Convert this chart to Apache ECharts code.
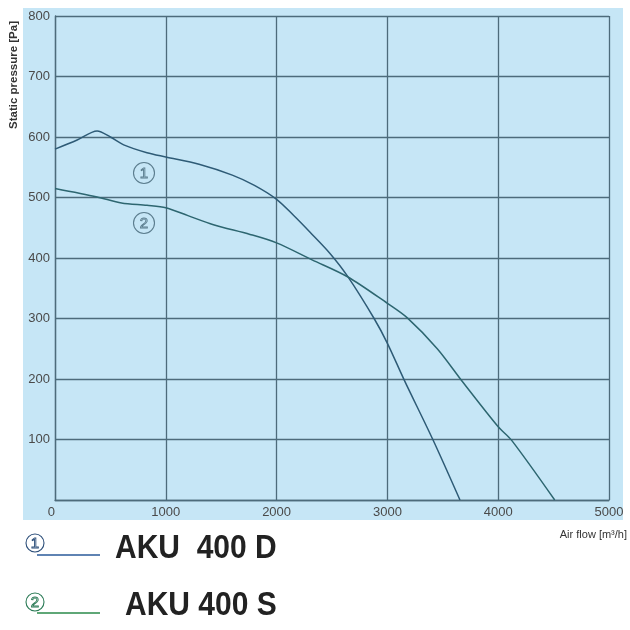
<!DOCTYPE html>
<html>
<head>
<meta charset="utf-8">
<script src="https://cdn.jsdelivr.net/npm/echarts@6/dist/echarts.min.js"></script>
<style>html,body{margin:0;padding:0;background:#fff}#c{width:630px;height:630px}</style>
</head>
<body>
<div id="c"></div>
<script>
// Data
const flowD = [0, 200, 380, 500, 620, 830, 1000, 1300, 1600, 1800, 2000, 2150, 2300, 2480, 2640, 2880, 3000, 3150, 3410, 3655];
const pressD = [580, 595, 610, 600, 587, 574, 567, 555, 537, 520, 497, 471, 443, 408, 370, 300, 259, 199, 100, 0];
const flowS = [0, 380, 600, 830, 1000, 1200, 1430, 1760, 2000, 2320, 2640, 3000, 3180, 3450, 3680, 4000, 4120, 4510];
const pressS = [515, 501, 491, 487, 483, 470, 455, 439, 425, 397, 369, 325, 301, 250, 195, 121, 99, 0];
const seriesNames = ['AKU  400 D', 'AKU 400 S'];
const xTicks = [0, 1000, 2000, 3000, 4000, 5000];
const yTicks = [0, 100, 200, 300, 400, 500, 600, 700, 800];

const chart = echarts.init(document.getElementById('c'), null, {renderer: 'canvas'});
const gridCol = '#4d6b7b';
const bg = '#c6e6f6';
const markCol = '#5b7d8e';
const font = 'Liberation Sans, Arial, sans-serif';

function circled(cx, cy, num, col, r) {
  return [
    {type: 'circle', shape: {cx: cx, cy: cy, r: r}, style: {fill: 'none', stroke: col, lineWidth: 1.1}, z: 50},
    {type: 'text', x: cx, y: cy + 1, style: {text: num, fill: 'none', stroke: col, lineWidth: 0.9, font: '15px ' + font, align: 'center', verticalAlign: 'middle'}, z: 50}
  ];
}

const graphics = [
  {type: 'rect', shape: {x: 23, y: 8, width: 600, height: 512}, style: {fill: bg}, z: -100, silent: true},
  {type: 'text', x: 14, y: 75, rotation: Math.PI / 2, style: {text: 'Static pressure [Pa]', fill: '#333', font: 'bold 11.5px ' + font, align: 'center', verticalAlign: 'middle'}, z: 50},
  {type: 'text', x: 627, y: 535, style: {text: 'Air flow [m³/h]', fill: '#333', font: '11px ' + font, align: 'right', verticalAlign: 'middle'}, z: 50},
  {type: 'line', shape: {x1: 37, y1: 555, x2: 100, y2: 555}, style: {stroke: '#2a5a9a', lineWidth: 1.5}, z: 50},
  {type: 'line', shape: {x1: 37, y1: 613, x2: 100, y2: 613}, style: {stroke: '#2a8a4a', lineWidth: 1.5}, z: 50},
  {type: 'text', x: 115, y: 566, scaleY: 1.12, style: {text: seriesNames[0], fill: '#222', font: 'bold 30px ' + font, align: 'left', verticalAlign: 'bottom'}, z: 50},
  {type: 'text', x: 125, y: 623, scaleY: 1.12, style: {text: seriesNames[1], fill: '#222', font: 'bold 30px ' + font, align: 'left', verticalAlign: 'bottom'}, z: 50}
].concat(circled(144, 173, '1', markCol, 10.5), circled(144, 223, '2', markCol, 10.5),
         circled(35, 543, '1', '#2d4f7a', 9), circled(35, 602, '2', '#2a7a55', 9));

chart.setOption({
  backgroundColor: '#fff',
  animation: false,
  grid: {left: 55, right: 21, top: 16, bottom: 130, containLabel: false},
  xAxis: {
    type: 'value', min: xTicks[0], max: xTicks[xTicks.length - 1], interval: 1000,
    axisLine: {show: true, lineStyle: {color: gridCol, width: 1.3}},
    axisTick: {show: false},
    splitLine: {show: true, lineStyle: {color: gridCol, width: 1.3}},
    axisLabel: {color: '#4a4a4a', fontSize: 13, fontFamily: font, margin: 6, alignMinLabel: 'right',
      formatter: v => String(v)}
  },
  yAxis: {
    type: 'value', min: yTicks[0], max: yTicks[yTicks.length - 1], interval: 100,
    axisLine: {show: true, lineStyle: {color: gridCol, width: 1.3}},
    axisTick: {show: false},
    splitLine: {show: true, lineStyle: {color: gridCol, width: 1.3}},
    axisLabel: {color: '#4a4a4a', fontSize: 13, fontFamily: font, margin: 5,
      formatter: v => v === 0 ? '' : String(v)}
  },
  series: [
    {name: seriesNames[0], type: 'line', data: flowD.map((x, i) => [x, pressD[i]]), smooth: 0.3, showSymbol: false,
     lineStyle: {color: '#2e5b76', width: 1.5}, z: 5},
    {name: seriesNames[1], type: 'line', data: flowS.map((x, i) => [x, pressS[i]]), smooth: 0.3, showSymbol: false,
     lineStyle: {color: '#2d6670', width: 1.5}, z: 5}
  ],
  graphic: {elements: graphics}
});
</script>
</body>
</html>
